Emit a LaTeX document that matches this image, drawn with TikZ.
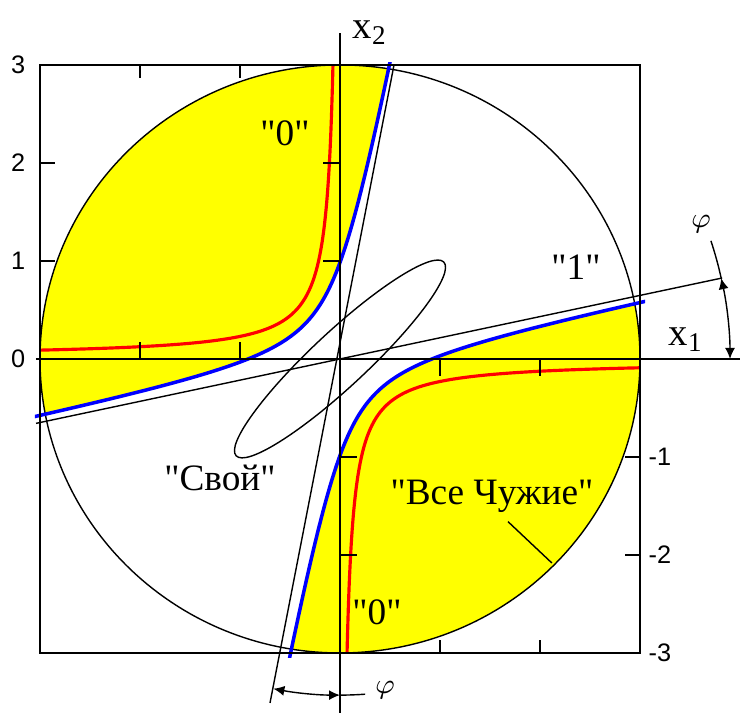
\documentclass[tikz,border=0pt]{standalone}
\usepackage{fontspec}
\setmainfont{Liberation Serif}[Ligatures=TeXOff]
\newfontfamily\ticksans{Liberation Sans}
\usetikzlibrary{arrows.meta,calc}
\definecolor{ZoneYellow}{HTML}{FFFF00}
\definecolor{CurveRed}{HTML}{FF0000}
\definecolor{CurveBlue}{HTML}{0000FF}
\newcommand{\hypa}{0.45}
\tikzset{
  frameline/.style={line width=0.45pt, draw=black},
  thinline/.style={line width=0.4pt, draw=black},
  redcurve/.style={line width=0.9pt, draw=CurveRed},
  bluecurve/.style={line width=1.0pt, draw=CurveBlue},
  zonelabel/.style={font=\fontsize{10.6}{12}\selectfont, anchor=base, inner sep=0pt},
  ticklabel/.style={font=\ticksans\fontsize{7.2}{8}\selectfont, inner sep=0pt},
  axislabel/.style={font=\fontsize{11}{13}\selectfont, inner sep=0pt},
  philabel/.style={font=\fontsize{8}{9}\selectfont, inner sep=0pt},
  anglearr/.style={line width=0.4pt, {Latex[length=1.1mm,width=1mm]}-{Latex[length=1.1mm,width=1mm]}}
}

\begin{document}
\begin{tikzpicture}[x=1cm,y=0.98cm]
\useasboundingbox (-3.4,-3.612) rectangle (4.0,3.663);
% yellow zones inside the circle
\begin{scope}
  \clip (0,0) circle (3);
  \fill[ZoneYellow] plot[domain=-2.05:2.02,samples=90,variable=\s]
    ({-\hypa*exp(\s)*cos(12)+\hypa*exp(-\s)*sin(10.5)},{-\hypa*exp(\s)*sin(12)+\hypa*exp(-\s)*cos(10.5)})
    -- (-4,-1.5) -- (-4,4) -- (1,4) -- cycle;
  \fill[ZoneYellow] plot[domain=-2.05:2.02,samples=90,variable=\s]
    ({\hypa*exp(\s)*cos(12)-\hypa*exp(-\s)*sin(10.5)},{\hypa*exp(\s)*sin(12)-\hypa*exp(-\s)*cos(10.5)})
    -- (4,1.5) -- (4,-4) -- (-1,-4) -- cycle;
\end{scope}
\draw[thinline] (0,0) circle (3);

% skew axes and the ellipse
\draw[thinline] (192.2:3.11) -- (12.2:3.91);
\draw[thinline] (-0.70,-3.51) -- (0.54,3.0);
\draw[thinline,rotate=43] (0,0) ellipse (1.42 and 0.28);

% red curves
\draw[redcurve] plot[domain=-2.652:1.0986,samples=90,variable=\s] ({-exp(\s)},{0.02+0.21*exp(-\s)});
\draw[redcurve] plot[domain=-2.652:1.0986,samples=90,variable=\s] ({exp(\s)},{-0.02-0.21*exp(-\s)});

% blue curves
\begin{scope}
  \clip (-3.05,-3.05) rectangle (3.05,3.03);
  \draw[bluecurve] plot[domain=-2.05:2.02,samples=90,variable=\s]
    ({-\hypa*exp(\s)*cos(12)+\hypa*exp(-\s)*sin(10.5)},{-\hypa*exp(\s)*sin(12)+\hypa*exp(-\s)*cos(10.5)});
  \draw[bluecurve] plot[domain=-2.05:2.02,samples=90,variable=\s]
    ({\hypa*exp(\s)*cos(12)-\hypa*exp(-\s)*sin(10.5)},{\hypa*exp(\s)*sin(12)-\hypa*exp(-\s)*cos(10.5)});
\end{scope}

% axes, frame, ticks
\draw[thinline] (-3.04,0) -- (4.0,0);
\draw[thinline] (0,-3.62) -- (0,3.33);
\draw[frameline] (-3,-3) rectangle (3,3);
\foreach \t in {-2,-1} {
  \draw[thinline] (\t,3) -- ++(0,-0.13);
  \draw[thinline] (\t,0) -- ++(0,0.17);
  \draw[thinline] (3,\t) -- ++(-0.15,0);
  \draw[thinline] (0,\t) -- ++(0.17,0);
}
\foreach \t in {1,2} {
  \draw[thinline] (\t,-3) -- ++(0,0.13);
  \draw[thinline] (\t,0) -- ++(0,-0.17);
  \draw[thinline] (-3,\t) -- ++(0.15,0);
  \draw[thinline] (0,\t) -- ++(-0.17,0);
}
\foreach \t in {0,1,2,3}
  \node[ticklabel, anchor=east] (tl\t) at (-3.14,\t) {\t};
\foreach \t in {1,2,3}
  \node[ticklabel, anchor=west] (tr\t) at (3.08,-\t) {-\t};

% angle marks
\draw[anglearr] (0:3.9) arc[start angle=0,end angle=12.2,radius=3.9];
\draw[thinline] (12.2:3.9) arc[start angle=12.2,end angle=18,radius=3.9];
\node[philabel] (phiright) at (3.61,1.38) {$\varphi$};
\draw[anglearr] (-101.2:3.43) arc[start angle=-101.2,end angle=-90,radius=3.43];
\draw[thinline] (-90:3.43) arc[start angle=-90,end angle=-85.8,radius=3.43];
\node[philabel] (phibottom) at (0.45,-3.38) {$\varphi$};

% labels
\node[axislabel] (xtwo) at (0.30,3.33) {x\textsubscript{2}};
\node[axislabel] (xone) at (3.46,0.2) {x\textsubscript{1}};
\node[zonelabel] (zerotop) at (-0.55,2.18) {"0"};
\node[zonelabel] (one) at (2.36,0.81) {"1"};
\node[zonelabel] (svoy) at (-1.2,-1.34) {"Свой"};
\node[zonelabel] (vse) at (1.52,-1.49) {"Все Чужие"};
\node[zonelabel] (zerobottom) at (0.37,-2.71) {"0"};
\coordinate (vsetip) at (-44.5:2.97);
\draw[thinline] ($(vse.base)+(0.16,-0.17)$) -- (vsetip);
\end{tikzpicture}
\end{document}
